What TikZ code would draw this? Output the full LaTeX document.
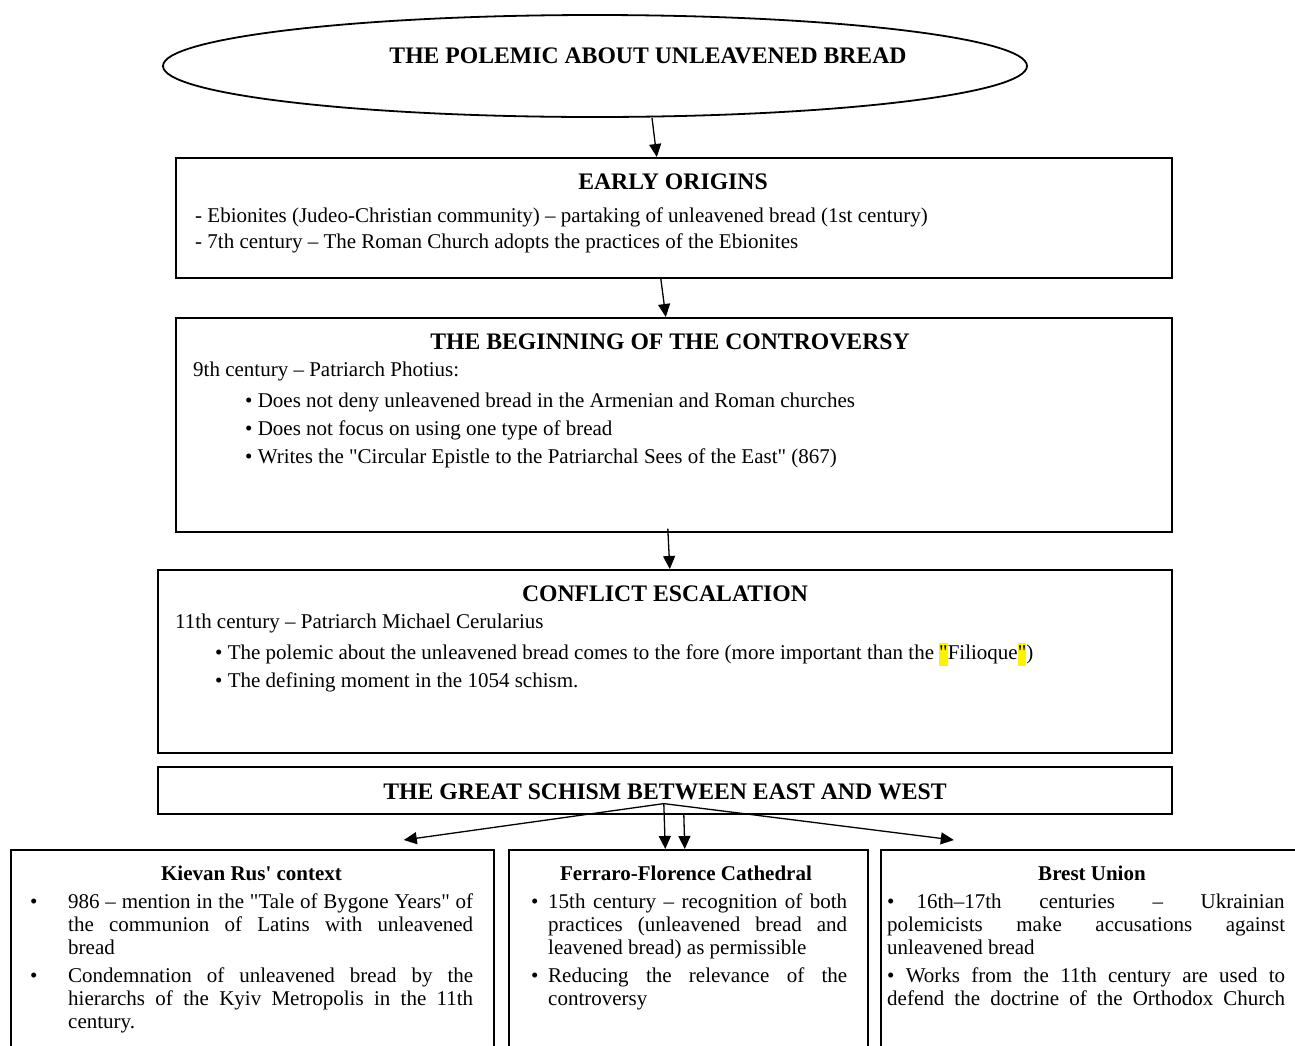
\documentclass[tikz,border=0pt]{standalone}
\usepackage{fontspec}
\setmainfont{Liberation Serif}[Ligatures=TeXOff]
\usetikzlibrary{arrows.meta,shapes.geometric,positioning}
\newcommand\jl[2]{\makebox[#1pt][s]{#2}}
\newcommand\hlq{{\setlength{\fboxsep}{0pt}\colorbox{yellow}{\strut"}}}
\tikzset{
	frame/.style = {draw, line width=1.6pt, inner sep=0pt, anchor=north west},
	hd/.style = {font=\fontsize{23.7}{26}\selectfont\bfseries, inner sep=0pt, anchor=base},
	sub/.style = {font=\fontsize{21}{23}\selectfont\bfseries, inner sep=0pt, anchor=base},
	tx/.style = {font=\fontsize{21}{23}\selectfont, inner sep=0pt, anchor=base west},
	ar/.style = {-{Triangle[length=13pt, width=12pt]}, line width=1.3pt},
}
\begin{document}
\begin{tikzpicture}[x=1pt, y=-1pt]
		
		\useasboundingbox (0,0) rectangle (1295,1045);
		\clip (0,0) rectangle (1295,1045);
		
		%% title ellipse ---------------------------------------------------
		\node[draw, ellipse, line width=1.8pt, minimum width=864, minimum height=102] (polemic) at (595,66) {};
		\node[hd] (polemic-t) at (648,63) {THE POLEMIC ABOUT UNLEAVENED BREAD};
		
		%% early origins ---------------------------------------------------
		\node[frame, minimum width=996, minimum height=120] (early) at (175,157) {};
		\node[hd] (early-t) at (673,189) {EARLY ORIGINS};
		\node[tx] (early-1) at (195,222) {- Ebionites (Judeo-Christian community) – partaking of unleavened bread (1st century)};
		\node[tx] (early-2) at (195,248) {- 7th century – The Roman Church adopts the practices of the Ebionites};
		
		%% beginning of the controversy ------------------------------------
		\node[frame, minimum width=996, minimum height=214] (contro) at (175,317) {};
		\node[hd] (contro-t) at (670,349) {THE BEGINNING OF THE CONTROVERSY};
		\node[tx] (contro-1) at (193,376) {9th century – Patriarch Photius:};
		\node[tx] (contro-2) at (245,407) {• Does not deny unleavened bread in the Armenian and Roman churches};
		\node[tx] (contro-3) at (245,435) {• Does not focus on using one type of bread};
		\node[tx] (contro-4) at (245,463) {• Writes the "Circular Epistle to the Patriarchal Sees of the East" (867)};
		
		%% conflict escalation ---------------------------------------------
		\node[frame, minimum width=1014, minimum height=183] (escal) at (157,569) {};
		\node[hd] (escal-t) at (665,601) {CONFLICT ESCALATION};
		\node[tx] (escal-1) at (175,628) {11th century – Patriarch Michael Cerularius};
		\node[tx] (escal-2) at (215,659) {• The polemic about the unleavened bread comes to the fore (more important than the \hlq Filioque\hlq)};
		\node[tx] (escal-3) at (215,687) {• The defining moment in the 1054 schism.};
		
		%% great schism ----------------------------------------------------
		\node[frame, minimum width=1014, minimum height=47] (schism) at (157,766) {};
		\node[hd] (schism-t) at (665,799) {THE GREAT SCHISM BETWEEN EAST AND WEST};
		
		%% three branches (run off the bottom edge) ------------------------
		\node[frame, minimum width=483, minimum height=220] (kiev) at (10,849) {};
		\node[sub] (kiev-t) at (251.5,880) {Kievan Rus' context};
		\node[tx] (kiev-b1) at (30,908) {•};
		\node[tx] (kiev-1) at (68,908) {\jl{405}{986 – mention in the "Tale of Bygone Years" of}};
		\node[tx] (kiev-2) at (68,931) {\jl{405}{the communion of Latins with unleavened}};
		\node[tx] (kiev-3) at (68,954) {bread};
		\node[tx] (kiev-b2) at (30,982) {•};
		\node[tx] (kiev-4) at (68,982) {\jl{405}{Condemnation of unleavened bread by the}};
		\node[tx] (kiev-5) at (68,1005) {\jl{405}{hierarchs of the Kyiv Metropolis in the 11th}};
		\node[tx] (kiev-6) at (68,1028) {century.};
		
		\node[frame, minimum width=359, minimum height=220] (ferr) at (508,849) {};
		\node[sub] (ferr-t) at (686,880) {Ferraro-Florence Cathedral};
		\node[tx] (ferr-b1) at (531,908) {•};
		\node[tx] (ferr-1) at (548,908) {\jl{299}{15th century – recognition of both}};
		\node[tx] (ferr-2) at (548,931) {\jl{299}{practices (unleavened bread and}};
		\node[tx] (ferr-3) at (548,954) {leavened bread) as permissible};
		\node[tx] (ferr-b2) at (531,982) {•};
		\node[tx] (ferr-4) at (548,982) {\jl{299}{Reducing the relevance of the}};
		\node[tx] (ferr-5) at (548,1005) {controversy};
		
		\node[frame, minimum width=430, minimum height=220] (brest) at (880,849) {};
		\node[sub] (brest-t) at (1092,880) {Brest Union};
		\node[tx] (brest-1) at (887,908) {•\hspace{22pt}\jl{368}{16th–17th centuries – Ukrainian}};
		\node[tx] (brest-2) at (887,931) {\jl{398}{polemicists make accusations against}};
		\node[tx] (brest-3) at (887,954) {unleavened bread};
		\node[tx] (brest-4) at (887,982) {\jl{398}{• Works from the 11th century are used to}};
		\node[tx] (brest-5) at (887,1005) {\jl{398}{defend the doctrine of the Orthodox Church}};
		
		%% arrows ----------------------------------------------------------
		\draw[ar] ([xshift=57pt]polemic.south) -- ([xshift=-17pt]early.north);
		\draw[ar] ([xshift=-13pt]early.south) -- ([xshift=-8pt]contro.north);
		\draw[ar] ([xshift=-6pt, yshift=4pt]contro.south) -- ([xshift=5pt]escal.north);
		
		\coordinate (fork) at ([xshift=-1pt, yshift=11pt]schism.south);
		\draw[ar] (fork) -- ([xshift=151.5pt, yshift=9pt]kiev.north);
		\draw[ar] (fork) -- ([xshift=-142pt, yshift=9pt]brest.north);
		\draw[ar] (fork) -- ([xshift=-23pt]ferr.north);
		\draw[ar] ([xshift=19pt]schism.south) -- ([xshift=-3.5pt]ferr.north);
		
	\end{tikzpicture}
\end{document}
